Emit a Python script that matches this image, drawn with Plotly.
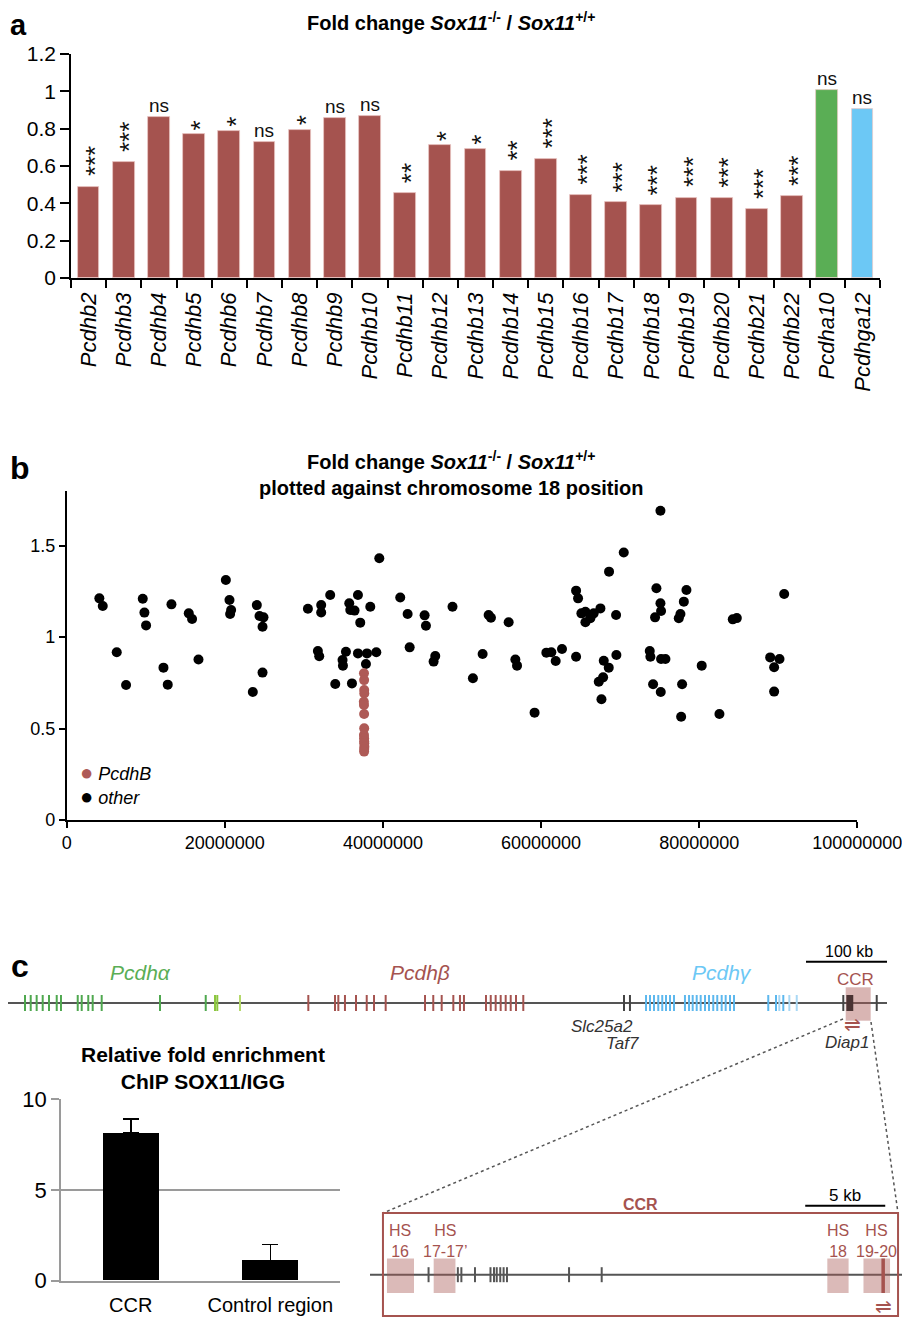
import plotly.graph_objects as go

FONT = "Arial, 'Liberation Sans', Helvetica, sans-serif"
# page body has an 8px margin: the figure is sized so that it fills the window
OX, OY = 8, 8
W, H = 902, 1311
BROWN = "#A5534F"
GREEN = "#5AAE55"
BLUE = "#6CC8F5"

# ---------------- Panel a data ----------------
genes_a = ["Pcdhb2", "Pcdhb3", "Pcdhb4", "Pcdhb5", "Pcdhb6", "Pcdhb7", "Pcdhb8",
           "Pcdhb9", "Pcdhb10", "Pcdhb11", "Pcdhb12", "Pcdhb13", "Pcdhb14",
           "Pcdhb15", "Pcdhb16", "Pcdhb17", "Pcdhb18", "Pcdhb19", "Pcdhb20",
           "Pcdhb21", "Pcdhb22", "Pcdha10", "Pcdhga12"]
fold_a = [0.49, 0.62, 0.86, 0.77, 0.79, 0.73, 0.795, 0.855, 0.868, 0.455, 0.713,
          0.69, 0.574, 0.64, 0.446, 0.405, 0.39, 0.431, 0.428, 0.369, 0.44,
          1.005, 0.904]
sig_a = ["***", "***", "ns", "*", "*", "ns", "*", "ns", "ns", "**", "*", "*", "**",
         "***", "***", "***", "***", "***", "***", "***", "***", "ns", "ns"]
group_a = ["b"] * 21 + ["a", "g"]

# ---------------- Panel b data (position in Mb, fold change) ----------------
other_mb = [4.13, 4.56, 6.33, 7.51, 9.62, 9.83, 10.04, 12.24, 12.78, 13.25, 15.44,
            15.86, 16.67, 20.13, 20.59, 20.80, 20.67, 24.05, 24.39, 24.89, 24.77,
            24.77, 23.54, 30.51, 32.19, 32.19, 33.33, 31.77, 31.94, 33.97, 34.89,
            34.94, 35.32, 36.08, 35.74, 35.87, 36.41, 36.84, 37.13, 38.40, 36.84,
            37.85, 37.98, 39.16, 39.54, 42.19, 43.12, 43.38, 45.27, 45.44, 46.41,
            46.62, 48.80, 53.37, 53.66, 52.61, 51.38, 55.90, 56.75, 56.96, 59.18,
            60.67, 61.30, 61.85, 62.65, 64.43, 64.43, 64.68, 65.10, 65.61, 65.61,
            66.24, 66.66, 67.51, 67.93, 68.56, 67.85, 67.30, 67.64, 68.60, 69.49,
            69.53, 70.46, 73.75, 73.83, 74.17, 74.59, 74.42, 75.10, 75.18, 75.10,
            75.18, 75.73, 75.14, 77.42, 77.63, 78.06, 78.39, 77.84, 77.72, 80.32,
            82.56, 84.25, 84.76, 88.98, 90.16, 89.48, 89.48, 90.75]
other_fc = [1.212, 1.170, 0.917, 0.738, 1.210, 1.134, 1.064, 0.833, 0.740, 1.179,
            1.130, 1.099, 0.878, 1.312, 1.203, 1.148, 1.126, 1.175, 1.115, 1.108,
            1.057, 0.806, 0.700, 1.155, 1.175, 1.135, 1.230, 0.924, 0.895, 0.744,
            0.875, 0.844, 0.920, 0.747, 1.185, 1.148, 1.145, 1.230, 1.079, 1.166,
            0.911, 0.853, 0.911, 0.917, 1.431, 1.217, 1.126, 0.944, 1.119, 1.062,
            0.866, 0.897, 1.166, 1.121, 1.106, 0.908, 0.775, 1.081, 0.878, 0.844,
            0.587, 0.915, 0.917, 0.869, 0.935, 0.893, 1.254, 1.212, 1.130, 1.139,
            1.081, 1.103, 1.130, 1.157, 0.871, 0.833, 0.780, 0.756, 0.660, 1.358,
            1.121, 0.902, 1.463, 0.924, 0.893, 0.742, 1.267, 1.108, 1.185, 1.143,
            1.691, 0.880, 0.880, 0.700, 1.103, 1.126, 1.194, 1.258, 0.742, 0.565,
            0.844, 0.580, 1.097, 1.104, 0.889, 0.880, 0.835, 0.702, 1.236]
pcdhb_mb = [37.60, 37.62, 37.63, 37.64, 37.58, 37.60, 37.62, 37.63, 37.60,
            37.62, 37.63, 37.64, 37.65, 37.63, 37.62]
pcdhb_fc = [0.802, 0.765, 0.711, 0.692, 0.647, 0.629, 0.580, 0.501, 0.465,
            0.447, 0.430, 0.419, 0.401, 0.388, 0.374]
xticks_b = [0, 20000000, 40000000, 60000000, 80000000, 100000000]

# ---------------- Panel c data ----------------
chip_regions = ["CCR", "Control region"]
chip_vals = [8.13, 1.10]
chip_err = [0.79, 0.90]

# gene map (positions in kb along the locus)
alpha_kb = [21.2, 27.9, 34.9, 42.0, 49.4, 58.5, 63.5, 83.2, 87.9, 95.6, 100.8,
            111.4, 180.0, 233.8]
alpha_c_kb = [244.7, 247.4]
alpha_c2_kb = [274.1]
beta_kb = [354.5, 385.9, 389.8, 397.6, 410.6, 423.2, 431.8, 445.5, 491.8, 501.5,
           511.4, 525.1, 532.9, 537.6, 563.5, 569.1, 574.9, 580.8, 586.7, 592.6,
           598.8, 607.4]
gamma_kb = [751.8, 756.5, 761.2, 766.2, 770.9, 775.3, 780.0, 784.7, 797.6, 802.4,
            806.7, 811.4, 816.1, 821.2, 825.9, 830.9, 835.6, 840.8, 845.5, 850.6,
            855.3, 895.6, 904.7, 913.3]
gamma_c_kb = [908.6, 920.4, 929.1]
other_genes_kb = [725.9, 732.9, 983.9, 1023.2]
locus_start_kb = 1.18
locus_len_kb = 1035.3
ccr_kb = [986.7, 1016.1]
diap1_block_kb = [987.5, 995.6]

# CCR zoom (positions in kb within the zoomed window)
ccr_zoom_len_kb = 33.56
ccr_ticks_kb = [3.66, 5.49, 5.71, 6.56, 7.53, 7.75, 7.92, 8.14, 8.35, 8.56, 12.44, 14.48]
hs_names = ["HS<br>16", "HS<br>17-17’", "HS<br>18", "HS<br>19-20"]
hs_start = [1.06, 3.98, 28.58, 30.84]
hs_end = [2.75, 5.34, 29.91, 32.50]
primer_kb = [31.96, 32.18]


def fx(px):
    return (px - OX) / W


def fy(py):
    return 1 - (py - OY) / H


def xd(a, b):
    return [fx(a), fx(b)]


def yd(bottom, top):
    return [fy(bottom), fy(top)]


fig = go.Figure()

# ---------- Panel a ----------
col_map = {"b": BROWN, "a": GREEN, "g": BLUE}
fig.add_trace(go.Bar(
    x=genes_a, y=fold_a, width=0.62,
    marker=dict(color=[col_map[g] for g in group_a],
                line=dict(color="rgba(235,200,198,0.9)", width=0.8)),
    xaxis="x", yaxis="y", showlegend=False, hoverinfo="skip"))

annotations = []
for g, v, s in zip(genes_a, fold_a, sig_a):
    if s == "ns":
        annotations.append(dict(x=g, y=v, xref="x", yref="y", text="ns",
                                showarrow=False, yanchor="bottom", borderpad=0,
                                font=dict(size=19, color="#111", family=FONT)))
    else:
        n = len(s)
        annotations.append(dict(x=g, y=v, xref="x", yref="y", text=s,
                                showarrow=False, yanchor="bottom", textangle=-90,
                                borderpad=0, xshift=6,
                                yshift=(3 if n == 1 else 9),
                                font=dict(size=26, color="#111", family=FONT)))

# ---------- Panel b ----------
fig.add_trace(go.Scatter(
    x=[m * 1e6 for m in other_mb], y=other_fc, mode="markers",
    marker=dict(size=10, color="black"), xaxis="x2", yaxis="y2",
    showlegend=False, hoverinfo="skip"))
fig.add_trace(go.Scatter(
    x=[m * 1e6 for m in pcdhb_mb], y=pcdhb_fc, mode="markers",
    marker=dict(size=10, color="#AE5A56"), xaxis="x2", yaxis="y2",
    showlegend=False, hoverinfo="skip"))

# ---------- Panel c: gene map ----------
fig.add_trace(go.Scatter(x=[locus_start_kb, locus_len_kb], y=[0, 0], mode="lines",
                         line=dict(color="#555", width=2), xaxis="x3", yaxis="y3",
                         showlegend=False, hoverinfo="skip"))


def tick_trace(pos, color, ax, ay, half=8, width=2):
    xs, ys = [], []
    for p in pos:
        xs += [p, p, None]
        ys += [-half, half, None]
    return go.Scatter(x=xs, y=ys, mode="lines", line=dict(color=color, width=width),
                      xaxis=ax, yaxis=ay, showlegend=False, hoverinfo="skip")


fig.add_trace(tick_trace(alpha_kb, "#4FA84F", "x3", "y3"))
fig.add_trace(tick_trace(alpha_c_kb, "#8CC63F", "x3", "y3"))
fig.add_trace(tick_trace(alpha_c2_kb, "#B5D86A", "x3", "y3"))
fig.add_trace(tick_trace(beta_kb, "#A5534F", "x3", "y3"))
fig.add_trace(tick_trace(gamma_kb, "#5DB8EE", "x3", "y3"))
fig.add_trace(tick_trace(gamma_c_kb, "#A8D8F5", "x3", "y3"))
fig.add_trace(tick_trace(other_genes_kb, "#444", "x3", "y3"))

shapes = []
shapes.append(dict(type="rect", xref="x3", yref="y3", x0=ccr_kb[0], x1=ccr_kb[1],
                   y0=-17.7, y1=15.7, fillcolor="rgba(170,90,86,0.45)",
                   line=dict(width=0), layer="above"))
shapes.append(dict(type="rect", xref="x3", yref="y3", x0=diap1_block_kb[0],
                   x1=diap1_block_kb[1], y0=-8, y1=8, fillcolor="#4a3333",
                   line=dict(width=0), layer="above"))
# 100 kb scale bar
shapes.append(dict(type="line", xref="x3", yref="y3", x0=940, x1=1040, y0=41.3,
                   y1=41.3, line=dict(color="black", width=2)))

gene_labels = [
    ("<i>Pcdhα</i>", 157.6, 31, GREEN, 21),
    ("<i>Pcdhβ</i>", 485.9, 31, BROWN, 21),
    ("<i>Pcdhγ</i>", 841.2, 31, BLUE, 21),
    ("<i>Slc25a2</i>", 700.0, -23, "#333", 17),
    ("<i>Taf7</i>", 724.5, -40, "#333", 17),
    ("<i>Diap1</i>", 988.2, -39, "#333", 17),
    ("CCR", 998.8, 24, BROWN, 17),
    ("100 kb", 990, 52, "black", 16),
    ("⇌", 995, -21, BROWN, 20),
]
for t, x, y, c, s in gene_labels:
    annotations.append(dict(x=x, y=y, xref="x3", yref="y3", text=t, showarrow=False,
                            borderpad=0, font=dict(size=s, color=c, family=FONT)))

# dotted connectors
shapes.append(dict(type="line", xref="paper", yref="paper", x0=fx(843), y0=fy(1019),
                   x1=fx(383), y1=fy(1213),
                   line=dict(color="#555", width=1.5, dash="dot")))
shapes.append(dict(type="line", xref="paper", yref="paper", x0=fx(871), y0=fy(1022),
                   x1=fx(898), y1=fy(1213),
                   line=dict(color="#555", width=1.5, dash="dot")))

# ---------- Panel c: ChIP bars ----------
fig.add_trace(go.Bar(
    x=chip_regions, y=chip_vals, width=0.4, marker=dict(color="black"),
    error_y=dict(type="data", symmetric=False, array=chip_err,
                 arrayminus=[0] * len(chip_err), color="black", thickness=1.5,
                 width=8),
    xaxis="x4", yaxis="y4", showlegend=False, hoverinfo="skip"))

# ---------- Panel c: CCR zoom ----------
for n, s0, s1 in zip(hs_names, hs_start, hs_end):
    shapes.append(dict(type="rect", xref="x5", yref="y5", x0=s0, x1=s1, y0=-18.3,
                       y1=16.2, fillcolor="rgba(170,90,86,0.42)", line=dict(width=0),
                       layer="above"))
    annotations.append(dict(x=(s0 + s1) / 2, y=34, xref="x5", yref="y5", text=n,
                            showarrow=False, align="center", borderpad=0,
                            font=dict(size=16, color=BROWN, family=FONT)))
shapes.append(dict(type="rect", xref="x5", yref="y5", x0=primer_kb[0], x1=primer_kb[1],
                   y0=-18.3, y1=16.2, fillcolor="#A5534F", line=dict(width=0),
                   layer="above"))
shapes.append(dict(type="rect", xref="x5", yref="y5", x0=0.81, x1=33.0, y0=-41.3,
                   y1=61.7, fillcolor="rgba(0,0,0,0)", line=dict(color=BROWN, width=2)))
shapes.append(dict(type="line", xref="x5", yref="y5", x0=27.2, x1=32.2, y0=68.9,
                   y1=68.9, line=dict(color="black", width=2)))
fig.add_trace(go.Scatter(x=[0, ccr_zoom_len_kb], y=[0, 0], mode="lines",
                         line=dict(color="#555", width=2), xaxis="x5", yaxis="y5",
                         showlegend=False, hoverinfo="skip"))
fig.add_trace(tick_trace(ccr_ticks_kb, "#555", "x5", "y5", half=7.5))
annotations += [
    dict(x=16.9, y=69.9, xref="x5", yref="y5", text="<b>CCR</b>", showarrow=False,
         borderpad=0, font=dict(size=16, color=BROWN, family=FONT)),
    dict(x=29.7, y=79.2, xref="x5", yref="y5", text="5 kb", showarrow=False,
         borderpad=0, font=dict(size=17, color="black", family=FONT)),
    dict(x=32.1, y=-31.5, xref="x5", yref="y5", text="⇌", showarrow=False,
         borderpad=0, font=dict(size=20, color=BROWN, family=FONT)),
]


# ---------- Titles, panel letters, legend ----------
def ann_px(text, x, y, size, color="black", xanchor="center", yanchor="middle"):
    return dict(x=fx(x), y=fy(y), xref="paper", yref="paper", text=text,
                showarrow=False, xanchor=xanchor, yanchor=yanchor, borderpad=0,
                font=dict(size=size, color=color, family=FONT))


annotations += [
    ann_px("<b>Fold change <i>Sox11</i><sup>-/-</sup> / <i>Sox11</i><sup>+/+</sup></b>",
           451, 8, 20, yanchor="top"),
    ann_px("<b>Fold change <i>Sox11</i><sup>-/-</sup> / <i>Sox11</i><sup>+/+</sup><br>"
           "plotted against chromosome 18 position</b>", 451, 473, 20),
    ann_px("<b>Relative fold enrichment<br>ChIP SOX11/IGG</b>", 203, 1068, 21),
    ann_px("<b>a</b>", 9, 8, 29, xanchor="left", yanchor="top"),
    ann_px("<b>b</b>", 9, 468, 32, xanchor="left"),
    ann_px("<b>c</b>", 10, 966, 32, xanchor="left"),
    ann_px("<span style='color:#AE5A56;font-size:22px'>●</span> <i>PcdhB</i>",
           79, 772, 18, xanchor="left"),
    ann_px("<span style='font-size:22px'>●</span> <i>other</i>", 79, 797, 18,
           xanchor="left"),
]

axis_common = dict(showgrid=False, zeroline=False, showline=True, linecolor="black",
                   linewidth=1.5, ticks="outside", tickcolor="black", tickwidth=1.5,
                   automargin=False)
hidden = dict(visible=False, automargin=False, showgrid=False, zeroline=False)

fig.update_layout(
    template="none",
    width=W, height=H, margin=dict(l=0, r=0, t=0, b=0, pad=0, autoexpand=False),
    paper_bgcolor="white", plot_bgcolor="rgba(0,0,0,0)",
    font=dict(family=FONT, color="black"),
    showlegend=False, bargap=0,
    xaxis=dict(domain=xd(71, 880), anchor="y", type="category",
               tickson="boundaries", ticklen=8, tickangle=-90, ticklabelstandoff=4,
               tickfont=dict(size=22, style="italic"), range=[-0.5, 22.5],
               **axis_common),
    yaxis=dict(domain=yd(278, 54), anchor="x", range=[0, 1.2],
               dtick=0.2, ticklen=9, tickfont=dict(size=21), **axis_common),
    xaxis2=dict(domain=xd(66.7, 857.3), anchor="y2", range=[0, 1e8],
                tickvals=xticks_b, ticktext=[str(v) for v in xticks_b],
                ticklen=6, tickfont=dict(size=18), **axis_common),
    yaxis2=dict(domain=yd(820, 490.8), anchor="x2", range=[0, 1.8],
                tickvals=[0, 0.5, 1, 1.5], ticktext=["0", "0.5", "1", "1.5"],
                ticklen=6, tickfont=dict(size=18), **axis_common),
    xaxis3=dict(domain=xd(8, 887), anchor="y3",
                range=[locus_start_kb, locus_len_kb], **hidden),
    yaxis3=dict(domain=yd(1055, 940), anchor="x3", range=[-52, 63], **hidden),
    xaxis4=dict(domain=xd(61, 340), anchor="y4", type="category",
                range=[-0.5, 1.5], showgrid=False, zeroline=False, showline=True,
                linecolor="#9a9a9a", linewidth=1.5, ticks="", ticklabelstandoff=6,
                tickfont=dict(size=20), automargin=False),
    yaxis4=dict(domain=yd(1280.7, 1099.3), anchor="x4", range=[0, 10],
                tickvals=[0, 5, 10], showgrid=True, gridcolor="#9a9a9a", gridwidth=1.5,
                zeroline=False, showline=True, linecolor="#9a9a9a", linewidth=1.5,
                ticks="outside", ticklen=8, tickcolor="#9a9a9a", tickwidth=1.5,
                tickfont=dict(size=22), automargin=False),
    xaxis5=dict(domain=xd(370, 907), anchor="y5", range=[0, ccr_zoom_len_kb],
                **hidden),
    yaxis5=dict(domain=yd(1319, 1185), anchor="x5", range=[-44.3, 89.7], **hidden),
    shapes=shapes, annotations=annotations,
)

fig.write_html("out.html")
